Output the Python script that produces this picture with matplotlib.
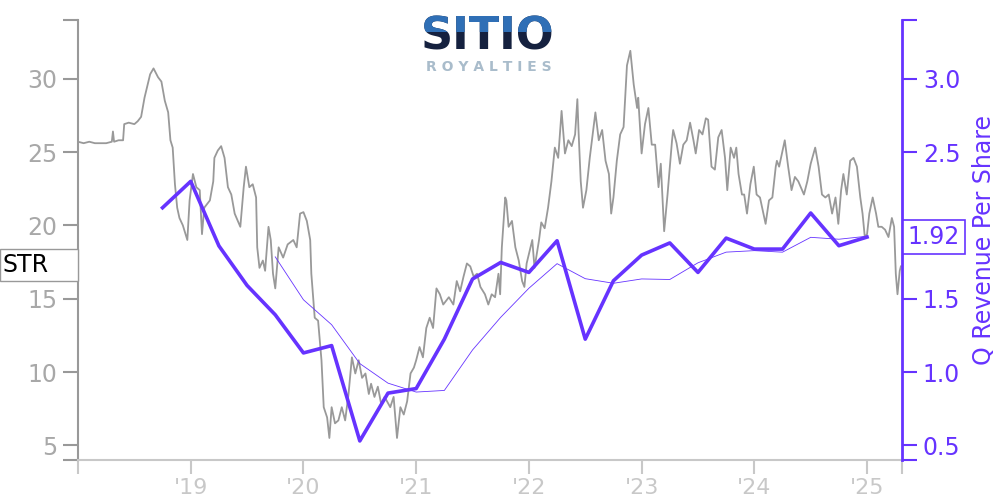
import matplotlib
matplotlib.use('Agg')
import matplotlib.pyplot as plt
from matplotlib.patches import Rectangle
from matplotlib.transforms import blended_transform_factory
import pandas as pd

# daily close, decimal years
price_t = [
    2018.00, 2018.05, 2018.10, 2018.15, 2018.20, 2018.25, 2018.30, 2018.31, 2018.32, 2018.36,
    2018.40, 2018.41, 2018.45, 2018.50, 2018.53, 2018.56, 2018.59, 2018.64, 2018.67, 2018.71,
    2018.74, 2018.77, 2018.80, 2018.82, 2018.84, 2018.86, 2018.88, 2018.90, 2018.93, 2018.97,
    2018.99, 2019.02, 2019.05, 2019.08, 2019.10, 2019.12, 2019.17, 2019.20, 2019.21, 2019.24,
    2019.27, 2019.30, 2019.33, 2019.36, 2019.39, 2019.44, 2019.47, 2019.49, 2019.52, 2019.55,
    2019.58, 2019.59, 2019.61, 2019.64, 2019.66, 2019.69, 2019.71, 2019.73, 2019.75, 2019.78,
    2019.82, 2019.86, 2019.91, 2019.94, 2019.97, 2020.00, 2020.03, 2020.06, 2020.07, 2020.10,
    2020.13, 2020.16, 2020.18, 2020.21, 2020.23, 2020.25, 2020.28, 2020.31, 2020.34, 2020.37,
    2020.40, 2020.43, 2020.46, 2020.49, 2020.52, 2020.55, 2020.58, 2020.60, 2020.63, 2020.66,
    2020.69, 2020.72, 2020.77, 2020.80, 2020.83, 2020.86, 2020.89, 2020.92, 2020.95, 2020.98,
    2021.00, 2021.03, 2021.06, 2021.09, 2021.12, 2021.15, 2021.18, 2021.21, 2021.24, 2021.29,
    2021.33, 2021.36, 2021.39, 2021.42, 2021.45, 2021.48, 2021.51, 2021.54, 2021.57, 2021.61,
    2021.64, 2021.67, 2021.70, 2021.73, 2021.745, 2021.76, 2021.79, 2021.80, 2021.82, 2021.85,
    2021.88, 2021.91, 2021.94, 2021.96, 2021.98, 2022.03, 2022.05, 2022.09, 2022.11, 2022.14,
    2022.17, 2022.20, 2022.23, 2022.26, 2022.29, 2022.32, 2022.35, 2022.38, 2022.41, 2022.43,
    2022.44, 2022.46, 2022.48, 2022.51, 2022.54, 2022.59, 2022.62, 2022.65, 2022.68, 2022.71,
    2022.73, 2022.75, 2022.78, 2022.81, 2022.84, 2022.87, 2022.90, 2022.93, 2022.96, 2022.97,
    2023.00, 2023.03, 2023.06, 2023.09, 2023.12, 2023.15, 2023.17, 2023.20, 2023.23, 2023.27,
    2023.28, 2023.31, 2023.34, 2023.37, 2023.40, 2023.43, 2023.46, 2023.48, 2023.51, 2023.54,
    2023.57, 2023.59, 2023.62, 2023.65, 2023.68, 2023.71, 2023.74, 2023.76, 2023.79, 2023.82,
    2023.84, 2023.86, 2023.89, 2023.91, 2023.935, 2023.965, 2023.995, 2024.02, 2024.05, 2024.10,
    2024.13, 2024.16, 2024.19, 2024.20, 2024.22, 2024.245, 2024.27, 2024.30, 2024.33, 2024.36,
    2024.39, 2024.44, 2024.47, 2024.50, 2024.54, 2024.57, 2024.60, 2024.63, 2024.66, 2024.69,
    2024.72, 2024.745, 2024.77, 2024.79, 2024.82, 2024.85, 2024.88, 2024.91, 2024.94, 2024.96,
    2024.98, 2025.00, 2025.02, 2025.05, 2025.08, 2025.10, 2025.13, 2025.16, 2025.19, 2025.22,
    2025.24, 2025.255, 2025.27, 2025.29, 2025.30,
]
price_v = [
    25.7, 25.6, 25.7, 25.6, 25.6, 25.6, 25.7, 26.4, 25.7, 25.8,
    25.8, 26.9, 27.0, 26.9, 27.1, 27.4, 28.7, 30.3, 30.7, 30.1,
    29.8, 28.5, 27.7, 25.8, 25.3, 22.8, 21.2, 20.5, 20.0, 19.0,
    21.7, 23.5, 22.6, 22.4, 19.4, 21.2, 21.7, 23.0, 24.6, 25.1,
    25.4, 24.6, 22.6, 22.1, 20.8, 19.9, 22.6, 24.0, 22.6, 22.8,
    21.9, 18.5, 17.1, 17.6, 16.9, 19.9, 19.0, 16.7, 15.7, 18.5,
    17.8, 18.7, 19.0, 18.5, 20.8, 20.9, 20.3, 19.0, 16.7, 13.7,
    13.5, 10.8, 7.6, 6.9, 5.5, 7.6, 6.5, 6.7, 7.6, 6.7,
    8.5, 11.0, 9.9, 10.8, 9.6, 9.9, 8.5, 9.2, 8.3, 9.0,
    7.8, 8.3, 7.6, 8.3, 5.5, 7.6, 7.1, 8.0, 9.9, 10.3,
    10.8, 11.7, 11.0, 13.0, 13.7, 13.0, 15.7, 15.3, 14.6, 15.1,
    14.6, 16.2, 15.5, 16.5, 17.4, 17.2, 16.5, 16.7, 15.8, 15.3,
    14.6, 15.3, 15.1, 16.7, 15.3, 18.5, 21.9, 21.7, 19.9, 20.3,
    18.5, 17.6, 16.2, 15.8, 17.4, 19.0, 17.1, 19.0, 20.2, 19.8,
    21.2, 23.0, 25.3, 24.6, 27.8, 24.9, 25.8, 25.4, 26.2, 28.6,
    26.5, 23.0, 21.2, 22.4, 24.6, 27.7, 25.8, 26.5, 24.4, 23.5,
    20.8, 21.9, 24.4, 26.2, 26.7, 30.9, 31.9, 29.6, 28.0, 28.7,
    24.9, 26.9, 28.0, 25.5, 25.5, 22.6, 24.2, 19.6, 22.1, 25.8,
    26.5, 25.6, 24.2, 25.5, 25.8, 27.0, 25.8, 24.9, 26.5, 26.2,
    27.3, 27.2, 24.0, 23.8, 26.0, 26.5, 24.6, 22.4, 25.3, 24.6,
    25.3, 23.5, 22.1, 22.1, 20.8, 22.8, 24.0, 22.1, 21.9, 20.1,
    21.7, 21.9, 24.0, 24.4, 24.0, 24.9, 25.8, 24.0, 22.4, 23.3,
    23.0, 22.1, 23.0, 24.2, 25.3, 24.0, 22.1, 21.9, 22.1, 20.8,
    21.9, 20.1, 22.4, 23.5, 22.1, 24.4, 24.6, 24.0, 21.9, 20.8,
    19.2, 19.4, 20.8, 21.9, 20.8, 19.9, 19.9, 19.7, 19.2, 20.5,
    19.9, 16.7, 15.3, 16.9, 17.2,
]

# quarterly revenue per share
rev_t = [
    2018.75, 2019.00, 2019.25, 2019.50, 2019.75, 2020.00, 2020.25, 2020.50, 2020.75,
    2021.00, 2021.25, 2021.50, 2021.75, 2022.00, 2022.25, 2022.50, 2022.75,
    2023.00, 2023.25, 2023.50, 2023.75, 2024.00, 2024.25, 2024.50, 2024.75, 2025.00,
]
rev_v = [
    2.12, 2.30, 1.86, 1.59, 1.39, 1.13, 1.18, 0.53, 0.856,
    0.887, 1.224, 1.634, 1.747, 1.679, 1.895, 1.224, 1.622,
    1.797, 1.88, 1.679, 1.913, 1.838, 1.838, 2.084, 1.861, 1.92,
]

year_ticks = [2018, 2019, 2020, 2021, 2022, 2023, 2024, 2025]
year_labels = ['', "'19", "'20", "'21", "'22", "'23", "'24", "'25"]

PURPLE = '#6633ff'
GRAY = '#999999'
LIGHT = '#c8c8c8'

rev = pd.Series(rev_v, index=rev_t)
# trailing 4-quarter average, drawn from the fifth quarter on
rev_avg = rev.rolling(4).mean().iloc[4:]

fig = plt.figure(figsize=(10, 5), dpi=100)
ax = fig.add_axes([0.078, 0.08, 0.824, 0.88])
ax2 = ax.twinx()

ax.plot(price_t, price_v, color=GRAY, lw=1.3, zorder=2)
ax2.plot(rev.index, rev.values, color=PURPLE, lw=2.6, zorder=3)
ax2.plot(rev_avg.index, rev_avg.values, color=PURPLE, lw=0.6, zorder=3)

x0, x1 = 2018.0, 2025.31
ax.set_xlim(x0, x1)
ax.set_ylim(4, 34)
ax2.set_ylim(0.4, 3.4)

# x axis
ax.set_xticks(year_ticks + [x1])
ax.set_xticklabels(year_labels + [''])
ax.tick_params(axis='x', colors=LIGHT, labelcolor=LIGHT, length=10, width=1.5,
               labelsize=16, pad=3)

# left axis
ax.set_yticks([4, 5, 10, 15, 20, 25, 30, 34])
ax.set_yticklabels(['', '5', '10', '15', '20', '25', '30', ''])
ax.tick_params(axis='y', colors=GRAY, labelcolor='#a8a8a8', length=11, width=1.5,
               labelsize=17, pad=4)

# right axis (2.0 sits under the last-value tag)
ax2.set_yticks([0.4, 0.5, 1.0, 1.5, 2.0, 2.5, 3.0, 3.4])
ax2.set_yticklabels(['', '0.5', '1.0', '1.5', '', '2.5', '3.0', ''])
ax2.tick_params(axis='y', colors=PURPLE, labelcolor=PURPLE, length=11, width=1.5,
                labelsize=17, pad=4)
ax2.set_ylabel('Q Revenue Per Share', color=PURPLE, fontsize=17, labelpad=8)

for a in (ax, ax2):
    a.spines['top'].set_visible(False)
ax.spines['left'].set_color(GRAY)
ax.spines['left'].set_linewidth(1.5)
ax.spines['bottom'].set_color(LIGHT)
ax.spines['bottom'].set_linewidth(1.5)
ax.spines['right'].set_visible(False)
ax2.spines['left'].set_visible(False)
ax2.spines['bottom'].set_visible(False)
ax2.spines['right'].set_color(PURPLE)
ax2.spines['right'].set_linewidth(2)

# last value tags
tr = blended_transform_factory(fig.transFigure, ax.transData)
fig.patches.append(Rectangle((0.0, price_v[-1] - 1.0), 0.078, 2.2, transform=tr,
                             fc='white', ec=GRAY, lw=1))
fig.text(0.003, price_v[-1] + 0.1, 'STR', transform=tr, ha='left', va='center',
         fontsize=17, color='black')
ax2.annotate(f'{rev_v[-1]:.2f}', xy=(1, rev_v[-1]), xycoords=('axes fraction', 'data'),
             xytext=(4, 0), textcoords='offset points',
             ha='left', va='center', fontsize=17, color=PURPLE, zorder=10,
             bbox=dict(boxstyle='square,pad=0.2', fc='white', ec=PURPLE, lw=1.2))

# logo
t = fig.text(0.488, 0.90, 'SITIO', ha='center', va='baseline', fontsize=32,
             fontweight='bold', color='#15213f')
t2 = fig.text(0.488, 0.90, 'SITIO', ha='center', va='baseline', fontsize=32,
              fontweight='bold', color='#2f6fb6')
t2.set_clip_path(Rectangle((0, 0.936), 1, 0.1, transform=fig.transFigure))
fig.text(0.489, 0.858, 'R O Y A L T I E S', ha='center', va='baseline', fontsize=10,
         fontweight='bold', color='#a9bccb')

fig.savefig('out.png', dpi=100)
